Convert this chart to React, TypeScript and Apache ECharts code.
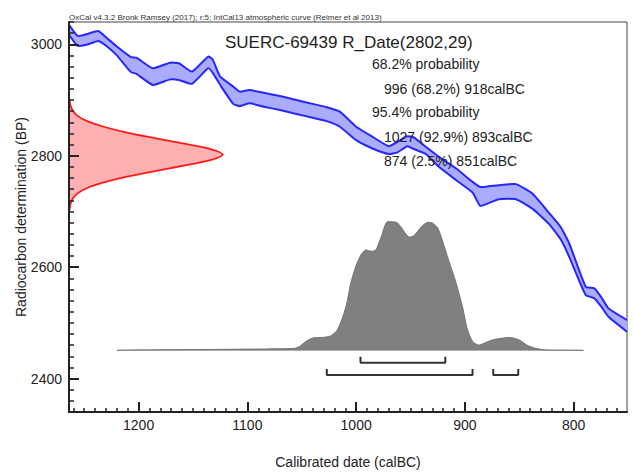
import React, { useEffect, useRef } from 'react';
import * as echarts from 'echarts';

const headerText = 'OxCal v4.3.2 Bronk Ramsey (2017); r:5; IntCal13 atmospheric curve (Reimer et al 2013)';
const titleText = 'SUERC-69439 R_Date(2802,29)';
const summaryLines = ['68.2% probability', '996 (68.2%) 918calBC', '95.4% probability', '1027 (92.9%) 893calBC', '874 (2.5%) 851calBC'];
const xTitle = 'Calibrated date (calBC)';
const yTitle = 'Radiocarbon determination (BP)';

// Calibration curve band (calBC, upper BP, lower BP)
const curveYears = [1264, 1256, 1248, 1237, 1229, 1220, 1207, 1202, 1187, 1171, 1163, 1151, 1136, 1132, 1125, 1113, 1107, 1098, 1085, 1070, 1055, 1040, 1027, 1015, 1000, 985, 970, 962, 953, 947, 936, 924, 908, 893, 886, 878, 869, 853, 838, 823, 812, 804, 789, 781, 775, 768, 751];
const curveUpper = [3035, 3015, 3018, 3024, 3011, 2996, 2977, 2976, 2957, 2967, 2966, 2951, 2978, 2973, 2942, 2924, 2915, 2918, 2913, 2907, 2900, 2893, 2887, 2879, 2852, 2834, 2817, 2825, 2835, 2833, 2816, 2798, 2777, 2753, 2744, 2745, 2747, 2749, 2732, 2698, 2672, 2642, 2565, 2562, 2547, 2526, 2505];
const curveLower = [3017, 2997, 2999, 3006, 2996, 2980, 2950, 2947, 2927, 2937, 2936, 2929, 2957, 2949, 2927, 2893, 2889, 2894, 2888, 2882, 2875, 2868, 2862, 2852, 2828, 2813, 2803, 2806, 2817, 2812, 2803, 2780, 2756, 2734, 2710, 2715, 2722, 2722, 2705, 2678, 2650, 2618, 2550, 2544, 2530, 2511, 2484];

// Radiocarbon measurement distribution (BP, relative density)
const dateBP = [2702, 2712, 2722, 2732, 2742, 2752, 2762, 2772, 2782, 2792, 2802, 2812, 2822, 2832, 2842, 2852, 2862, 2872, 2882, 2892, 2902];
const dateDensity = [0.003, 0.008, 0.022, 0.054, 0.118, 0.226, 0.37, 0.55, 0.74, 0.92, 1, 0.92, 0.74, 0.55, 0.37, 0.226, 0.118, 0.054, 0.022, 0.008, 0.003];

// Calibrated distribution (calBC, relative probability)
const calYears = [1220, 1200, 1160, 1140, 1113, 1083, 1057, 1052, 1046, 1040, 1031, 1024, 1018, 1014, 1009, 1005, 1000, 995, 991, 986, 982, 977, 971, 963, 959, 951, 947, 940, 934, 930, 925, 921, 915, 908, 902, 898, 893, 887, 881, 875, 869, 859, 850, 843, 835, 826, 810, 791];
const calProb = [0, 0.003, 0.005, 0.006, 0.008, 0.01, 0.015, 0.03, 0.07, 0.095, 0.1, 0.11, 0.15, 0.22, 0.35, 0.52, 0.66, 0.75, 0.78, 0.77, 0.78, 0.88, 1, 0.995, 0.96, 0.88, 0.89, 0.96, 0.995, 0.99, 0.95, 0.86, 0.7, 0.52, 0.33, 0.17, 0.07, 0.04, 0.06, 0.08, 0.09, 0.1, 0.08, 0.04, 0.015, 0.003, 0.001, 0];

const range68 = [[996, 918]];
const range95 = [[1027, 893], [874, 851]];

const xMajor = [1200, 1100, 1000, 900, 800];
const yMajor = [2400, 2600, 2800, 3000];

const FONT = 'Arial, "Liberation Sans", Helvetica, sans-serif';
const X_MIN = 751;
const X_MAX = 1264;
const Y_MIN = 2340;
const Y_MAX = 3040;

const xMinor: number[] = [];
for (let v = 760; v <= 1260; v += 10) if (v % 100 !== 0) xMinor.push(v);
const yMinor: number[] = [];
for (let v = 2340; v <= 3040; v += 20) if (v % 200 !== 0) yMinor.push(v);

const plain = (v: number) => String(v);

export default function App() {
  const ref = useRef<HTMLDivElement>(null);
  useEffect(() => {
    if (!ref.current) return;
    const chart = echarts.init(ref.current, undefined, { renderer: 'svg' });

    const bracket = (r: number[], lvl: number, top: number) => ({
      type: 'line',
      xAxisIndex: 0,
      yAxisIndex: 1,
      data: [[r[0], top], [r[0], lvl], [r[1], lvl], [r[1], top]],
      symbol: 'none',
      lineStyle: { color: '#333', width: 2 },
      silent: true,
      z: 5,
    });

    const option: any = {
      animation: false,
      grid: { left: 69, top: 22, width: 558, height: 390, show: true, borderColor: '#444', borderWidth: 1, backgroundColor: 'transparent' },
      xAxis: [
        {
          type: 'value', min: X_MIN, max: X_MAX, inverse: true, position: 'bottom',
          axisLine: { show: true, onZero: false, lineStyle: { color: '#222', width: 2 } },
          axisTick: { show: true, inside: true, length: 10, customValues: xMajor, lineStyle: { color: '#222', width: 2 } },
          axisLabel: { show: true, customValues: xMajor, formatter: plain, margin: 6, fontSize: 14, color: '#222', fontFamily: FONT },
          splitLine: { show: false },
          z: 20,
        },
        { type: 'value', min: 0, max: 3.63, show: false, axisLine: { onZero: false } },
        {
          type: 'value', min: X_MIN, max: X_MAX, inverse: true, position: 'bottom',
          axisLine: { show: false, onZero: false },
          axisTick: { show: true, inside: true, length: 4, customValues: xMinor, lineStyle: { color: '#222', width: 1.5 } },
          axisLabel: { show: false, customValues: xMinor },
          splitLine: { show: false },
          z: 20,
        },
      ],
      yAxis: [
        {
          type: 'value', min: Y_MIN, max: Y_MAX, position: 'left',
          axisLine: { show: true, onZero: false, lineStyle: { color: '#222', width: 2 } },
          axisTick: { show: true, inside: true, length: 10, customValues: yMajor, lineStyle: { color: '#222', width: 2 } },
          axisLabel: { show: true, customValues: yMajor, formatter: plain, margin: 7, fontSize: 14, color: '#222', fontFamily: FONT },
          splitLine: { show: false },
          z: 20,
        },
        { type: 'value', min: -0.4797, max: 2.552, show: false, axisLine: { onZero: false } },
        {
          type: 'value', min: Y_MIN, max: Y_MAX, position: 'left',
          axisLine: { show: false, onZero: false },
          axisTick: { show: true, inside: true, length: 5, customValues: yMinor, lineStyle: { color: '#222', width: 1.5 } },
          axisLabel: { show: false, customValues: yMinor },
          splitLine: { show: false },
          z: 20,
        },
      ],
      series: [
        {
          type: 'custom',
          xAxisIndex: 0,
          yAxisIndex: 0,
          clip: true,
          silent: true,
          data: [[curveYears[0], curveUpper[0]]],
          encode: { x: 0, y: 1 },
          renderItem: (params: any, api: any) => {
            const up = curveYears.map((yr, i) => api.coord([yr, curveUpper[i]]));
            const lo = curveYears.map((yr, i) => api.coord([yr, curveLower[i]]));
            return {
              type: 'group',
              children: [
                { type: 'polygon', shape: { points: up.concat(lo.slice().reverse()), smooth: 0.15 }, style: { fill: '#acacff' } },
                { type: 'polyline', shape: { points: up, smooth: 0.15 }, style: { stroke: '#2626ff', lineWidth: 2, fill: 'none' } },
                { type: 'polyline', shape: { points: lo, smooth: 0.15 }, style: { stroke: '#2626ff', lineWidth: 2, fill: 'none' } },
              ],
            };
          },
          z: 3,
        },
        {
          type: 'custom',
          xAxisIndex: 1,
          yAxisIndex: 0,
          clip: true,
          silent: true,
          data: [[dateDensity[0], dateBP[0]]],
          encode: { x: 0, y: 1 },
          renderItem: (params: any, api: any) => {
            const pts = dateBP.map((bp, i) => api.coord([dateDensity[i], bp]));
            const base = [api.coord([0, dateBP[dateBP.length - 1]]), api.coord([0, dateBP[0]])];
            return {
              type: 'group',
              children: [
                { type: 'polygon', shape: { points: pts.concat(base), smooth: 0 }, style: { fill: '#ffb0b0' } },
                { type: 'polyline', shape: { points: pts, smooth: 0.3 }, style: { stroke: '#ff1a1a', lineWidth: 1.8, fill: 'none' } },
              ],
            };
          },
          z: 3,
        },
        {
          type: 'line',
          xAxisIndex: 0,
          yAxisIndex: 1,
          data: [[calYears[0], 0], [calYears[calYears.length - 1], 0]],
          symbol: 'none',
          lineStyle: { color: '#aaa', width: 1 },
          silent: true,
          z: 2,
        },
        {
          type: 'line',
          xAxisIndex: 0,
          yAxisIndex: 1,
          data: calYears.map((yr, i) => [yr, calProb[i]]),
          symbol: 'none',
          smooth: 0.25,
          lineStyle: { color: '#707070', width: 1 },
          areaStyle: { color: '#808080', opacity: 1 },
          silent: true,
          z: 3,
        },
        ...range68.map((r) => bracket(r, -0.0964, -0.0498)),
        ...range95.map((r) => bracket(r, -0.192, -0.145)),
      ],
      graphic: [
        { type: 'text', x: 69, y: 17, style: { text: headerText, font: `8px ${FONT}`, fill: '#333', align: 'left', verticalAlign: 'middle', textAlign: 'left', textVerticalAlign: 'middle' }, z: 10 },
        { type: 'text', x: 225, y: 42, style: { text: titleText, font: `17px ${FONT}`, fill: '#222', align: 'left', verticalAlign: 'middle', textAlign: 'left', textVerticalAlign: 'middle' }, z: 10 },
        { type: 'text', x: 372, y: 63.5, style: { text: summaryLines[0], font: `14px ${FONT}`, fill: '#222', align: 'left', verticalAlign: 'middle', textAlign: 'left', textVerticalAlign: 'middle' }, z: 10 },
        { type: 'text', x: 384, y: 88.5, style: { text: summaryLines[1], font: `14px ${FONT}`, fill: '#222', align: 'left', verticalAlign: 'middle', textAlign: 'left', textVerticalAlign: 'middle' }, z: 10 },
        { type: 'text', x: 372, y: 112, style: { text: summaryLines[2], font: `14px ${FONT}`, fill: '#222', align: 'left', verticalAlign: 'middle', textAlign: 'left', textVerticalAlign: 'middle' }, z: 10 },
        { type: 'text', x: 384, y: 137, style: { text: summaryLines[3], font: `14px ${FONT}`, fill: '#222', align: 'left', verticalAlign: 'middle', textAlign: 'left', textVerticalAlign: 'middle' }, z: 10 },
        { type: 'text', x: 384, y: 161, style: { text: summaryLines[4], font: `14px ${FONT}`, fill: '#222', align: 'left', verticalAlign: 'middle', textAlign: 'left', textVerticalAlign: 'middle' }, z: 10 },
        { type: 'text', x: 348, y: 462, style: { text: xTitle, font: `14px ${FONT}`, fill: '#222', align: 'center', verticalAlign: 'middle', textAlign: 'center', textVerticalAlign: 'middle' }, z: 10 },
        { type: 'text', x: 21, y: 217, rotation: Math.PI / 2, style: { text: yTitle, font: `14px ${FONT}`, fill: '#222', align: 'center', verticalAlign: 'middle', textAlign: 'center', textVerticalAlign: 'middle' }, z: 10 },
      ],
    };
    chart.setOption(option);
    return () => chart.dispose();
  }, []);
  return <div ref={ref} style={{ position: 'fixed', left: 0, top: 0, width: 634, height: 473, background: '#fff' }} />;
}
